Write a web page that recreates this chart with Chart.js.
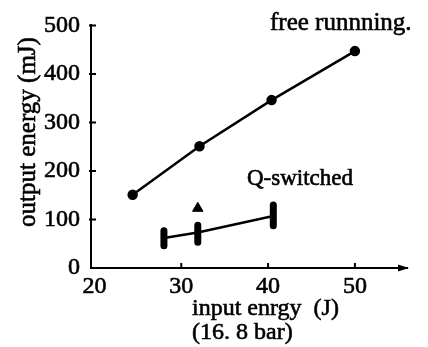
<!DOCTYPE html>
<html>
<head>
<meta charset="utf-8">
<script src="https://cdn.jsdelivr.net/npm/chart.js@4.4.1/dist/chart.umd.min.js"></script>
<style>
html,body{margin:0;padding:0;background:#fff;}
canvas{display:block;}
</style>
</head>
<body>
<canvas id="c" width="428" height="347"></canvas>
<script>
// ---- data ----
const xTicks = [20, 30, 40, 50];
const yTicks = [0, 100, 200, 300, 400, 500];
const freeX = [24.4, 32.1, 40.4, 50.0];
const freeY = [151, 251, 346, 447];
const qX = [28.0, 31.9, 40.6];
const qY = [62, 73, 107];
const qLow = [46, 53, 87];
const qHigh = [77, 88, 130];
const triX = [31.9];
const triY = [123];
const labels = {
  free: 'free runnning.',
  q: 'Q-switched',
  xTitle1: 'input enrgy  (J)',
  xTitle2: '(16. 8 bar)',
  yTitle: 'output energy (mJ)'
};

const FONT = '"Liberation Serif", "Times New Roman", serif';

function pts(xs, ys) { return xs.map((x, i) => ({x: x, y: ys[i]})); }
const errPts = [];
qX.forEach((x, i) => {
  errPts.push({x: x, y: qLow[i]});
  errPts.push({x: x, y: qHigh[i]});
  errPts.push({x: x, y: null});
});

function heavyText(ctx, s, x, y) {
  ctx.fillText(s, x, y);
  ctx.strokeText(s, x, y);
}

const decor = {
  id: 'decor',
  afterDraw(chart) {
    const ctx = chart.ctx;
    const xs = chart.scales.x, ys = chart.scales.y;
    const a = chart.chartArea;
    ctx.save();
    ctx.strokeStyle = '#000';
    ctx.fillStyle = '#000';
    ctx.lineWidth = 2;
    // inward tick marks
    ctx.beginPath();
    xTicks.forEach(v => {
      if (v === 20) return;
      const px = xs.getPixelForValue(v);
      ctx.moveTo(px, a.bottom);
      ctx.lineTo(px, a.bottom - 5);
    });
    yTicks.forEach(v => {
      if (v === 0) return;
      const py = ys.getPixelForValue(v);
      ctx.moveTo(a.left - 2, py);
      ctx.lineTo(a.left + 5, py);
    });
    ctx.stroke();
    // arrow on x axis
    ctx.beginPath();
    ctx.moveTo(a.right + 2, a.bottom);
    ctx.lineTo(a.right - 9, a.bottom - 3.5);
    ctx.lineTo(a.right - 9, a.bottom + 3.5);
    ctx.closePath();
    ctx.fill();
    // texts
    ctx.textBaseline = 'alphabetic';
    ctx.textAlign = 'left';
    ctx.lineWidth = 0.6;
    ctx.font = '25px ' + FONT;
    heavyText(ctx, labels.free, 270, 30);
    ctx.font = '23px ' + FONT;
    heavyText(ctx, labels.q, 247, 185);
    ctx.font = '24px ' + FONT;
    heavyText(ctx, labels.xTitle1, 192, 315);
    heavyText(ctx, labels.xTitle2, 192, 339);
    ctx.save();
    ctx.translate(35, 132);
    ctx.rotate(-Math.PI / 2);
    ctx.textAlign = 'center';
    ctx.font = '25px ' + FONT;
    heavyText(ctx, labels.yTitle, 0, 0);
    ctx.restore();
    ctx.restore();
  }
};

new Chart(document.getElementById('c'), {
  type: 'scatter',
  data: {
    datasets: [
      {
        data: pts(freeX, freeY), showLine: true,
        borderColor: '#000', borderWidth: 2.5,
        pointRadius: 4, pointBackgroundColor: '#000', pointBorderColor: '#000'
      },
      {
        data: pts(qX, qY), showLine: true,
        borderColor: '#000', borderWidth: 2.5, pointRadius: 0
      },
      {
        data: errPts, showLine: true, spanGaps: false,
        borderColor: '#000', borderWidth: 7, borderCapStyle: 'round', pointRadius: 0
      },
      {
        data: pts(triX, triY), showLine: false,
        pointStyle: 'triangle', pointRadius: 6,
        pointBackgroundColor: '#000', pointBorderColor: '#000'
      }
    ]
  },
  options: {
    responsive: false,
    animation: false,
    devicePixelRatio: 1,
    layout: {padding: {left: 0, top: 20, right: 21, bottom: 0}},
    plugins: {legend: {display: false}, tooltip: {enabled: false}},
    scales: {
      x: {
        type: 'linear', min: 19.6, max: 56,
        afterBuildTicks(s) { s.ticks = xTicks.map(v => ({value: v})); },
        afterFit(s) { s.height = 79; },
        grid: {display: false, drawTicks: false},
        border: {display: true, color: '#000', width: 2},
        ticks: {color: '#000', padding: 4, maxRotation: 0, textStrokeColor: '#000', textStrokeWidth: 0.6,
                font: {family: FONT, size: 24}}
      },
      y: {
        type: 'linear', min: 0, max: 500,
        afterBuildTicks(s) { s.ticks = yTicks.map(v => ({value: v})); },
        afterFit(s) { s.width = 91; },
        grid: {display: false, drawTicks: false},
        border: {display: true, color: '#000', width: 2},
        ticks: {color: '#000', padding: 11, textStrokeColor: '#000', textStrokeWidth: 0.6,
                font: {family: FONT, size: 24}}
      }
    }
  },
  plugins: [decor]
});
</script>
</body>
</html>
